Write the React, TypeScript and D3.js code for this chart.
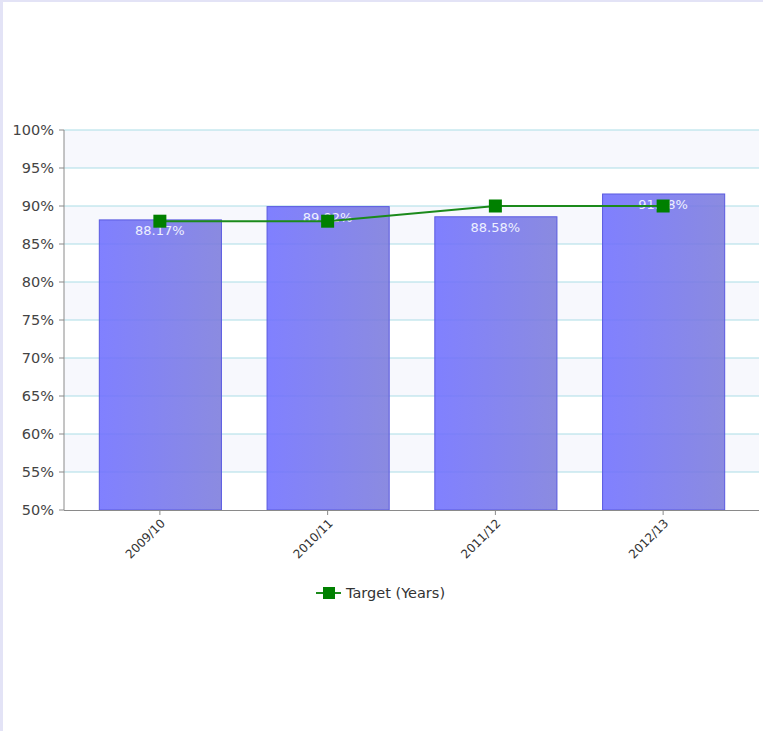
import React from "react";
import * as d3 from "d3";

// Academic years on the category axis
const years = ["2009/10", "2010/11", "2011/12", "2012/13"];
// Achieved rate per year (%)
const achieved = [88.17, 89.92, 88.58, 91.58];
// Target rate per year (%)
const target = [88, 88, 90, 90];
// Value axis ticks (%)
const yTicks = [50, 55, 60, 65, 70, 75, 80, 85, 90, 95, 100];
const legendLabel = "Target (Years)";

const W = 763;
const H = 731;
const plot = { left: 64, right: 759, top: 130, bottom: 510 };
const font = "'DejaVu Sans', Verdana, sans-serif";

export default function App() {
  const y = d3.scaleLinear().domain([50, 100]).range([plot.bottom, plot.top]);
  const x = d3
    .scaleBand<string>()
    .domain(years)
    .range([76, 747])
    .paddingInner(0.272)
    .paddingOuter(0.136);
  const cx = (d: string) => (x(d) ?? 0) + x.bandwidth() / 2;

  const line = d3
    .line<number>()
    .x((_, i) => cx(years[i]))
    .y((v) => y(v));

  const bands = yTicks.slice(0, -1).map((t, i) => ({ lo: t, hi: yTicks[i + 1] }));
  const mk = 13;

  return (
    <svg
      width={W}
      height={H}
      style={{ position: "absolute", left: 0, top: 0, display: "block" }}
    >
      <defs>
        <linearGradient id="barFill" x1="0" x2="1" y1="0" y2="0">
          <stop offset="0%" stopColor="#6f6fff" />
          <stop offset="100%" stopColor="#7b7bdc" />
        </linearGradient>
      </defs>
      <rect x={0} y={0} width={W} height={H} fill="#ffffff" />
      {/* frame edges */}
      <rect x={0} y={0} width={W} height={2} fill="#e3e3f6" />
      <rect x={0} y={0} width={3} height={H} fill="#e3e3f6" />

      {/* alternating plot bands */}
      {bands.map((b, i) =>
        (bands.length - 1 - i) % 2 === 0 ? (
          <rect
            key={"band" + i}
            x={plot.left}
            y={y(b.hi)}
            width={plot.right - plot.left}
            height={y(b.lo) - y(b.hi)}
            fill="#f7f8fd"
          />
        ) : null
      )}
      {/* gridlines */}
      {yTicks.slice(1).map((t) => (
        <line
          key={"g" + t}
          x1={plot.left}
          x2={plot.right}
          y1={y(t)}
          y2={y(t)}
          stroke="#abdde6"
          strokeWidth={1}
        />
      ))}

      {/* achieved bars */}
      {years.map((yr, i) => (
        <rect
          key={"bar" + yr}
          x={(x(yr) ?? 0) + 0.5}
          y={y(achieved[i])}
          width={x.bandwidth()}
          height={plot.bottom - y(achieved[i])}
          fill="url(#barFill)"
          fillOpacity={0.88}
          stroke="#5a5ae0"
          strokeWidth={1}
        />
      ))}
      {years.map((yr, i) => (
        <text
          key={"lbl" + yr}
          x={cx(yr)}
          y={y(achieved[i]) + 15}
          textAnchor="middle"
          fontFamily={font}
          fontSize={13}
          fill="#eef0ff"
        >
          {achieved[i].toFixed(2) + "%"}
        </text>
      ))}

      {/* axes */}
      <line x1={plot.left} x2={plot.left} y1={plot.top} y2={plot.bottom} stroke="#8a8a8a" />
      <line x1={plot.left} x2={plot.right} y1={plot.bottom + 0.5} y2={plot.bottom + 0.5} stroke="#8a8a8a" />
      {yTicks.map((t) => (
        <g key={"yt" + t}>
          <line x1={plot.left - 5} x2={plot.left} y1={y(t)} y2={y(t)} stroke="#8a8a8a" />
          <text
            x={54}
            y={y(t) + 5}
            textAnchor="end"
            fontFamily={font}
            fontSize={14.5}
            fill="#444444"
          >
            {t + "%"}
          </text>
        </g>
      ))}
      {years.map((yr) => (
        <g key={"xt" + yr}>
          <line x1={cx(yr)} x2={cx(yr)} y1={plot.bottom} y2={plot.bottom + 5} stroke="#8a8a8a" />
          <text
            transform={`translate(${cx(yr) + 6},${plot.bottom + 14}) rotate(-45)`}
            textAnchor="end"
            fontFamily={font}
            fontSize={12}
            fill="#333333"
          >
            {yr}
          </text>
        </g>
      ))}

      {/* target line */}
      <path d={line(target) ?? ""} fill="none" stroke="#1b8a1b" strokeWidth={2} />
      {target.map((v, i) => (
        <rect
          key={"m" + i}
          x={cx(years[i]) - mk / 2}
          y={y(v) - mk / 2}
          width={mk}
          height={mk}
          fill="#008000"
        />
      ))}

      {/* legend */}
      <line x1={316} x2={341} y1={593} y2={593} stroke="#1b8a1b" strokeWidth={2} />
      <rect x={323} y={587} width={12} height={12} fill="#008000" />
      <text x={346} y={598} fontFamily={font} fontSize={14.5} fill="#333333">
        {legendLabel}
      </text>
    </svg>
  );
}
